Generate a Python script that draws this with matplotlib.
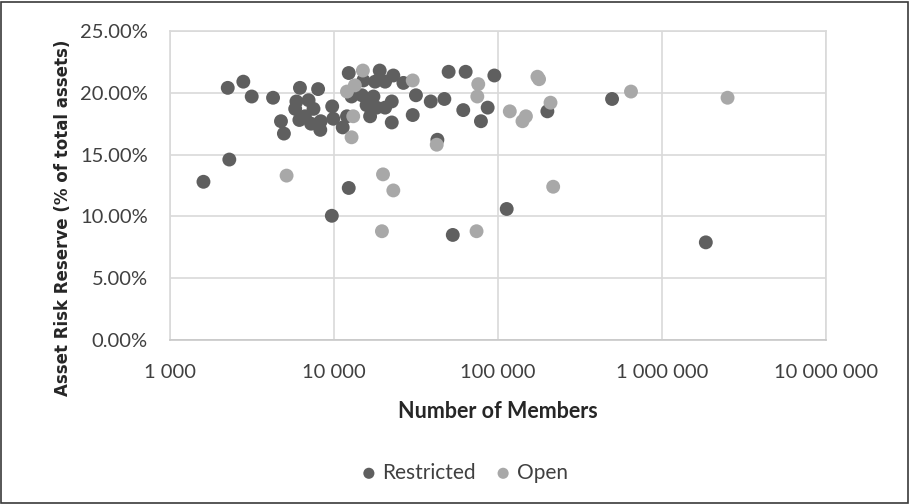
import matplotlib.pyplot as plt
from matplotlib.patches import Rectangle
from matplotlib.ticker import FixedLocator, FuncFormatter, NullLocator

# Restricted credit unions: members vs asset risk reserve (%)
restricted_members = [
    1600, 2300, 2250, 2800, 3150, 4250, 4750, 4950,
    5800, 5900, 6200, 6150, 6650, 7000, 7500, 7250, 8000, 8300, 8250,
    9750, 9900, 9700, 11300, 12300, 12300, 12000, 12800, 14800, 15100,
    15800, 16600, 17400, 17800, 18200, 19000, 20500, 20500, 22500, 22500,
    23000, 26500, 30200, 31600, 38900, 42700, 47100, 50000, 53000, 61400,
    63500, 78700, 86500, 95000, 113000, 200000, 496000, 1850000,
]
restricted_reserve = [
    12.8, 14.6, 20.4, 20.9, 19.7, 19.6, 17.7, 16.7,
    18.7, 19.3, 20.4, 17.8, 18.1, 19.4, 18.7, 17.5, 20.3, 17.7, 17.0,
    18.9, 17.9, 10.05, 17.2, 21.6, 12.3, 18.1, 19.7, 19.8, 21.0,
    19.0, 18.1, 19.7, 20.9, 18.8, 21.8, 20.9, 18.8, 19.3, 17.6,
    21.4, 20.8, 18.2, 19.8, 19.3, 16.2, 19.5, 21.7, 8.5, 18.6,
    21.7, 17.7, 18.8, 21.4, 10.6, 18.5, 19.5, 7.9,
]

# Open credit unions
open_members = [
    5140, 12000, 13400, 13100, 12800, 15000, 30200, 19900, 19600, 23000,
    42300, 74000, 75800, 74800, 118000, 141000, 148000, 174000, 178000,
    209000, 217000, 647000, 2510000,
]
open_reserve = [
    13.3, 20.1, 20.6, 18.1, 16.4, 21.8, 21.0, 13.4, 8.8, 12.1,
    15.8, 8.8, 20.7, 19.7, 18.5, 17.7, 18.1, 21.3, 21.1,
    19.2, 12.4, 20.1, 19.6,
]

x_ticks = [1e3, 1e4, 1e5, 1e6, 1e7]
y_ticks = [0, 5, 10, 15, 20, 25]

dark = "#5f5f5f"
light = "#a8a8a8"
grid_col = "#d9d9d9"
tick_font = ["Lato", "DejaVu Sans"]

fig = plt.figure(figsize=(9.1, 5.04), dpi=100)
ax = fig.add_axes([0.1868, 0.3254, 0.7209, 0.6131])

ax.scatter(restricted_members, restricted_reserve, s=100, color=dark,
           edgecolors="none", label="Restricted", zorder=3)
ax.scatter(open_members, open_reserve, s=100, color=light,
           edgecolors="none", label="Open", zorder=3)

ax.set_xscale("log")
ax.set_xlim(1e3, 1e7)
ax.set_ylim(0, 25)
ax.xaxis.set_major_locator(FixedLocator(x_ticks))
ax.xaxis.set_minor_locator(NullLocator())
ax.yaxis.set_major_locator(FixedLocator(y_ticks))
ax.xaxis.set_major_formatter(FuncFormatter(lambda v, _: f"{int(round(v)):,}".replace(",", " ")))
ax.yaxis.set_major_formatter(FuncFormatter(lambda v, _: f"{v:.2f}%"))

ax.grid(True, color=grid_col, linewidth=1.2, zorder=0)
ax.set_axisbelow(True)
for side in ["top", "right", "left", "bottom"]:
    ax.spines[side].set_color(grid_col)
    ax.spines[side].set_linewidth(1.2)
ax.spines["bottom"].set_color("#c8c8c8")

ax.tick_params(axis="both", length=0, labelcolor="#404040", labelsize=14.5)
ax.tick_params(axis="x", pad=17)
ax.tick_params(axis="y", pad=16)
for lbl in ax.get_xticklabels() + ax.get_yticklabels():
    lbl.set_family(tick_font)

ax.set_xlabel("Number of Members", fontsize=15.5, fontweight="bold", color="#262626",
              family=tick_font)
ax.xaxis.set_label_coords(0.5, -0.197)
ax.set_ylabel("Asset Risk Reserve (% of total assets)", fontsize=12, fontweight="bold",
              color="#262626", family="DejaVu Sans")
ax.yaxis.set_label_coords(-0.149, 0.395)

leg = fig.legend(loc="center", bbox_to_anchor=(0.51, 0.062), ncol=2, frameon=False,
                 handlelength=0.8, handletextpad=0.25, columnspacing=0.9,
                 markerscale=0.8, prop={"family": tick_font, "size": 15})
for txt in leg.get_texts():
    txt.set_color("#404040")

# thin frame round the whole figure
fig.patches.append(Rectangle((0.001, 0.002), 0.997, 0.995, transform=fig.transFigure,
                             fill=False, edgecolor="#3a3a3a", linewidth=1.2))

fig.savefig("out.png", dpi=100)
